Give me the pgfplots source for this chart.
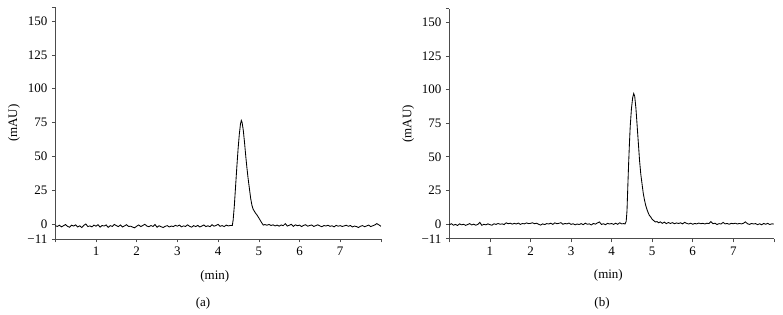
\documentclass[border=0pt]{standalone}
\usepackage{fontspec}
\setmainfont{Liberation Serif}
\usepackage{pgfplots}
\pgfplotsset{compat=1.18}
\pgfplotsset{chrom/.style={
  scale only axis, axis lines=left,
  axis line style={-, draw=black!70, line width=0.6bp},
  tick style={draw=black!70, line width=0.6bp},
  tick align=outside, major tick length=3.5bp,
  xmin=0, xmax=8, ymin=-11, ymax=160,
  xtick={0,1,2,3,4,5,6,7,8}, xticklabels={,1,2,3,4,5,6,7,},
  ytick={-11,0,25,50,75,100,125,150,160},
  yticklabels={−11,0,25,50,75,100,125,150,},
  xlabel={(min)}, ylabel={(mAU)},
  xlabel style={at={(axis description cs:0.49,-0.16)}, anchor=center},
  ylabel style={at={(axis description cs:-0.127,0.5)}, anchor=center},
  every tick label/.append style={font=\fontsize{13bp}{15bp}\selectfont},
  label style={font=\fontsize{13bp}{15bp}\selectfont},
  /pgf/number format/assume math mode=true,
  clip=false,
}}
\begin{document}
\fontsize{13bp}{15bp}\selectfont
\begin{tikzpicture}
\path[use as bounding box] (0bp,0bp) rectangle (783bp,315bp);
\begin{axis}[chrom, at={(55.3bp,76.1bp)}, anchor=south west, width=325.6bp, height=231.4bp]
\addplot[black, line width=0.85bp] coordinates {
(0.00,-1.2)(0.05,-1.8)(0.10,-0.9)(0.15,-2.1)(0.20,-1.3)(0.25,-0.4)(0.30,-1.7)(0.35,-2.4)(0.40,-0.9)(0.45,-1.5)
(0.50,-0.6)(0.55,-2.2)(0.60,-1.3)(0.65,-2.6)(0.70,-1.0)(0.75,0.0)(0.80,-1.9)(0.85,-1.4)(0.90,-2.1)(0.95,-0.8)
(1.00,-1.6)(1.05,-0.5)(1.10,-2.3)(1.15,-1.1)(1.20,-1.5)(1.25,-0.7)(1.30,-2.5)(1.35,-1.2)(1.40,-1.8)(1.45,-0.3)
(1.50,-1.2)(1.55,-1.9)(1.60,-0.7)(1.65,-2.2)(1.70,-1.4)(1.75,-0.5)(1.80,-1.8)(1.85,-1.6)(1.90,-2.3)(1.95,-2.8)
(2.00,-1.6)(2.05,-0.7)(2.10,-1.9)(2.15,-1.1)(2.20,-0.2)(2.25,-1.5)(2.30,-2.0)(2.35,-1.1)(2.40,-1.8)(2.45,-0.4)
(2.50,-2.4)(2.55,-1.3)(2.60,-2.0)(2.65,-2.6)(2.70,-1.7)(2.75,-1.2)(2.80,-2.2)(2.85,-1.5)(2.90,-1.9)(2.95,-1.0)
(3.00,-1.6)(3.05,-0.8)(3.10,-2.1)(3.15,-1.4)(3.20,-1.8)(3.25,-0.6)(3.30,-1.7)(3.35,-2.3)(3.40,-1.2)(3.45,-1.9)
(3.50,-1.0)(3.55,-2.2)(3.60,-1.5)(3.65,-0.7)(3.70,-1.9)(3.75,-1.3)(3.80,-2.0)(3.85,-0.5)(3.90,-1.6)(3.95,-1.1)
(4.00,-0.2)(4.05,-1.7)(4.10,-1.2)(4.15,-1.9)(4.20,-0.8)(4.25,-1.4)(4.30,-1.1)
(4.35,-1.0)(4.37,3)(4.40,14)(4.43,28)(4.46,42)(4.49,55)(4.52,66)(4.55,74)(4.57,76.5)(4.59,75)
(4.62,69)(4.65,60)(4.68,50)(4.71,41)(4.74,33)(4.77,26)(4.80,19)(4.83,14)(4.86,11)(4.89,9.5)
(4.92,8)(4.96,6.5)(5.00,4.5)(5.04,2.5)(5.08,0.5)(5.11,-0.8)
(5.15,-0.4)(5.20,-0.9)(5.25,-0.3)(5.30,-1.1)(5.35,-0.6)(5.40,-1.4)(5.45,-0.8)(5.50,-1.6)(5.55,-0.7)(5.60,-1.2)
(5.65,0.3)(5.70,-1.5)(5.75,-0.9)(5.80,-0.2)(5.85,-1.7)(5.90,-0.6)(5.95,-1.3)(6.00,-0.8)(6.05,-1.9)(6.10,-1.0)
(6.15,-0.5)(6.20,-1.6)(6.25,-1.1)(6.30,-0.7)(6.35,-1.8)(6.40,-1.2)(6.45,-0.6)(6.50,-1.4)(6.55,-2.0)(6.60,-1.1)
(6.65,-1.5)(6.70,-0.9)(6.75,-1.7)(6.80,-1.3)(6.85,-2.1)(6.90,-1.0)(6.95,-1.6)(7.00,-1.2)(7.05,-1.8)(7.10,-1.4)
(7.15,-0.9)(7.20,-1.7)(7.25,-1.1)(7.30,-2.2)(7.35,-1.5)(7.40,-1.9)(7.45,-2.6)(7.50,-1.6)(7.55,-1.2)(7.60,-2.0)
(7.65,-1.4)(7.70,-0.8)(7.75,-1.9)(7.80,-1.3)(7.85,-0.7)(7.90,0.3)(7.95,-0.6)(8.00,-1.7)
};
\end{axis}
\begin{axis}[chrom, at={(449.4bp,76.2bp)}, anchor=south west, width=324.4bp, height=230bp]
\addplot[black, line width=0.85bp] coordinates {
(0.00,-0.5)(0.05,0.2)(0.10,-0.9)(0.15,-0.3)(0.20,-1.1)(0.25,0.1)(0.30,-0.6)(0.35,-0.2)(0.40,-1.0)(0.45,-0.4)
(0.50,0.3)(0.55,-0.7)(0.60,-0.1)(0.65,-0.9)(0.70,-0.3)(0.75,1.2)(0.80,-1.0)(0.85,-0.2)(0.90,-0.6)(0.95,0.1)
(1.00,-0.5)(1.05,-0.9)(1.10,0.2)(1.15,-0.3)(1.20,0.4)(1.25,-0.2)(1.30,0.1)(1.35,-0.4)(1.40,0.9)(1.45,0.2)
(1.50,0.6)(1.55,-0.1)(1.60,0.5)(1.65,0.0)(1.70,0.7)(1.75,-0.3)(1.80,0.4)(1.85,0.1)(1.90,0.8)(1.95,0.3)
(2.00,0.5)(2.05,0.9)(2.10,0.2)(2.15,0.6)(2.20,-0.2)(2.25,-0.8)(2.30,0.1)(2.35,-0.4)(2.40,0.3)(2.45,0.0)
(2.50,0.6)(2.55,-0.3)(2.60,0.9)(2.65,0.2)(2.70,0.5)(2.75,1.0)(2.80,-0.2)(2.85,0.4)(2.90,0.1)(2.95,0.7)
(3.00,-0.3)(3.05,0.2)(3.10,-0.6)(3.15,0.0)(3.20,-0.4)(3.25,0.3)(3.30,-0.5)(3.35,0.6)(3.40,-0.2)(3.45,0.1)
(3.50,-0.7)(3.55,0.4)(3.60,-0.1)(3.65,0.8)(3.70,1.5)(3.75,-0.3)(3.80,0.2)(3.85,-0.5)(3.90,0.5)(3.95,0.0)
(4.00,0.4)(4.05,-0.3)(4.10,0.6)(4.15,-0.2)(4.20,0.9)(4.25,0.1)(4.30,0.3)
(4.33,0)(4.36,2)(4.38,10)(4.40,28)(4.42,45)(4.44,60)(4.46,73)(4.49,86)(4.52,94)(4.545,97)
(4.57,95)(4.60,86)(4.63,73)(4.66,60)(4.69,47)(4.72,37)(4.75,30)(4.78,23)(4.81,18)(4.84,14)
(4.87,11)(4.90,8.5)(4.93,6.5)(4.97,5)(5.00,3.5)(5.04,2.5)(5.08,1.5)
(5.12,1.8)(5.16,0.9)(5.20,1.6)(5.25,0.5)(5.30,1.4)(5.35,0.3)(5.40,1.1)(5.45,0.4)(5.50,1.0)(5.55,0.2)
(5.60,0.8)(5.65,0.4)(5.70,0.9)(5.75,0.1)(5.80,1.2)(5.85,0.5)(5.90,0.0)(5.95,0.6)(6.00,-0.2)(6.05,0.4)
(6.10,0.1)(6.15,0.7)(6.20,0.2)(6.25,0.5)(6.30,0.0)(6.35,0.6)(6.40,0.3)(6.45,1.8)(6.50,0.2)(6.55,0.6)
(6.60,-0.4)(6.65,0.3)(6.70,0.0)(6.75,1.2)(6.80,0.1)(6.85,0.4)(6.90,-0.2)(6.95,0.5)(7.00,0.2)(7.05,0.6)
(7.10,0.0)(7.15,0.4)(7.20,0.1)(7.25,0.5)(7.30,1.6)(7.35,0.2)(7.40,-0.3)(7.45,0.4)(7.50,0.0)(7.55,0.3)
(7.60,-0.5)(7.65,0.2)(7.70,-0.6)(7.75,0.4)(7.80,-0.2)(7.85,0.5)(7.90,-0.4)(7.95,0.1)(8.00,0.0)
};
\end{axis}
\node at (203bp,12bp) {(a)};
\node at (602bp,12bp) {(b)};
\end{tikzpicture}
\end{document}
